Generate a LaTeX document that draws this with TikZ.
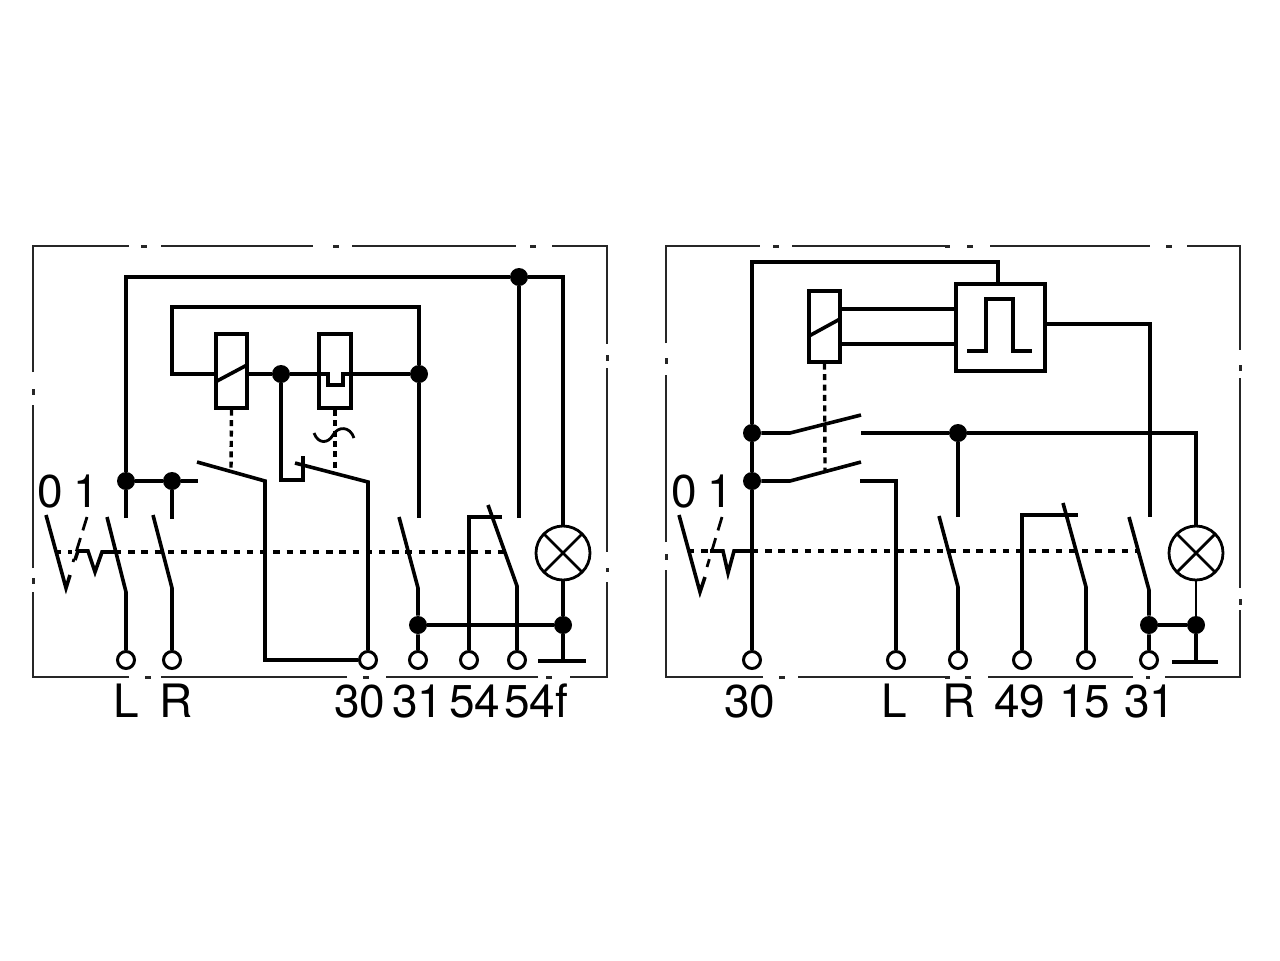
\documentclass[tikz,border=0pt]{standalone}
\usepackage{fontspec}
\setmainfont{TeX Gyre Heros}
\begin{document}
\begin{tikzpicture}[x=0.5pt,y=-0.5pt,
  wire/.style={line width=1.8pt,black,line join=miter},
  thinwire/.style={line width=1.4pt,black},
  frameline/.style={line width=1.2pt,black!85},
  framedot/.style={line width=1.5pt,black!85},
  linkdash/.style={line width=1.9pt,black,dash pattern=on 3.2pt off 3.4pt},
  relaydash/.style={line width=1.7pt,black,dash pattern=on 3pt off 2.2pt},
  junction/.style={circle,fill=black,draw=none,minimum size=9pt,inner sep=0pt},
  terminal/.style={circle,draw=black,line width=1.5pt,fill=white,minimum size=8.5pt,inner sep=0pt},
  lamp/.style={circle,draw=black,line width=1.4pt,minimum size=27pt,inner sep=0pt,
    path picture={\draw[line width=1.4pt]
      (path picture bounding box.south west)--(path picture bounding box.north east)
      (path picture bounding box.north west)--(path picture bounding box.south east);}},
  coilbox/.style={draw=black,line width=1.7pt,fill=none,inner sep=0pt},
  lbl/.style={inner sep=0pt,anchor=base west,font=\fontsize{23}{23}\selectfont}]
\useasboundingbox (0,0) rectangle (1280,960);
\fill[white] (0,0) rectangle (1280,960);

%% frames
\draw[frameline] (33,372)--(33,246)--(129,246) (161,246)--(313,246) (352,246)--(516,246) (552,246)--(607,246)--(607,344)
  (607,368)--(607,552) (607,582)--(607,677)--(570,677) (538,677)--(386,677) (347,677)--(161,677) (129,677)--(33,677)--(33,592)
  (33,568)--(33,405);
\draw[framedot] (33,389)--(33,395) (141,246)--(147,246) (333,246)--(339,246) (530,246)--(536,246) (607,355)--(607,361)
  (607,568)--(607,572) (33,578)--(33,584) (145,677)--(151,677) (363,677)--(369,677) (546,677)--(552,677);
\draw[frameline] (666,343)--(666,246)--(760,246) (792,246)--(950,246) (990,246)--(1150,246) (1187,246)--(1240,246)--(1240,350)
  (1240,378)--(1240,588) (1240,610)--(1240,677)--(1165,677) (1133,677)--(988,677) (950,677)--(798,677) (763,677)--(666,677)--(666,570)
  (666,542)--(666,375);
\draw[framedot] (666,358)--(666,364) (773,246)--(779,246) (945,246)--(950,246) (967,246)--(973,246) (1166,246)--(1172,246)
  (1240,365)--(1240,371) (1240,599)--(1240,605) (666,554)--(666,560) (779,677)--(785,677) (945,677)--(950,677) (965,677)--(971,677) (1146,677)--(1150,677);

%% LEFT DIAGRAM
\node[terminal] (tL) at (126,660) {};
\node[terminal] (tR) at (172,660) {};
\node[terminal] (t30) at (368,660) {};
\node[terminal] (t31) at (418,660) {};
\node[terminal] (t54) at (469,660) {};
\node[terminal] (t54f) at (517,660) {};
\node[junction] (jA) at (126,481) {};
\node[junction] (jB) at (172,481) {};
\node[junction] (jTop) at (519,277) {};
\node[junction] (jMid) at (281,374) {};
\node[junction] (jRight) at (419,374) {};
\node[junction] (jG1) at (418,625) {};
\node[junction] (jG2) at (563,625) {};
\node[lamp] (lampL) at (563,553) {};
\node[coilbox,minimum width=15.5pt,minimum height=37pt] (coilA) at (231.5,371) {};
\node[coilbox,minimum width=16pt,minimum height=37pt] (coilB) at (335,371) {};

\coordinate (a1) at (126,518); \coordinate (a2) at (126,277); \coordinate (a3) at (563,277);
\draw[wire] (a1)--(jA)--(a2)--(jTop)--(a3)--(lampL.north);
\coordinate (b1) at (519,518); \draw[wire] (jTop)--(b1);
\coordinate (c1) at (172,374); \coordinate (c2) at (172,307); \coordinate (c3) at (419,307);
\draw[wire] (coilA.west |- c1)--(c1)--(c2)--(c3)--(jRight);
\coordinate (c4) at (419,518); \draw[wire] (jRight)--(c4);
\coordinate (n1) at (328,374); \coordinate (n2) at (328,385); \coordinate (n3) at (343,385); \coordinate (n4) at (343,374);
\draw[wire] (coilA.east |- jMid)--(jMid)--(coilB.west |- jMid);
\draw[wire] (coilB.west |- jMid)--(n1)--(n2)--(n3)--(n4)--(coilB.east |- jMid)--(jRight);
\coordinate (s1) at (217,381); \coordinate (s2) at (247,365);
\draw[wire] (s1)--(s2);
\coordinate (d1) at (281,480); \coordinate (d2) at (303,480); \coordinate (d3) at (303,456);
\draw[wire] (jMid)--(d1)--(d2)--(d3);
\coordinate (e1) at (295,463); \coordinate (e2) at (368,482); \draw[wire] (e1)--(e2)--(t30);
\coordinate (f1) at (197,462); \coordinate (f2) at (265,481); \coordinate (f3) at (265,660);
\draw[wire] (f1)--(f2)--(f3)--(t30);
\coordinate (g1) at (198,481); \draw[wire] (jA)--(jB)--(g1);
\coordinate (g2) at (172,519); \draw[wire] (jB)--(g2);
\coordinate (hA) at (231,470); \coordinate (hB) at (335,471);
\draw[relaydash] (coilA.south)--(hA);
\draw[relaydash] (coilB.south)--(hB);
\draw[thinwire] (314,433) .. controls (318,444) and (328,444) .. (333,435) .. controls (338,426) and (350,426) .. (354,438);
\coordinate (L1) at (107,517); \coordinate (L2) at (126,592); \draw[wire] (L1)--(L2)--(tL);
\coordinate (R1) at (153,515); \coordinate (R2) at (172,588); \draw[wire] (R1)--(R2)--(tR);
\coordinate (k1) at (399,517); \coordinate (k2) at (418,588); \draw[wire] (k1)--(k2)--(jG1)--(t31);
\coordinate (m1) at (502,517); \coordinate (m2) at (469,517); \draw[wire] (m1)--(m2)--(t54);
\coordinate (o1) at (488,505); \coordinate (o2) at (517,586); \draw[wire] (o1)--(o2)--(t54f);
\draw[wire] (jG1)--(jG2);
\coordinate (q1) at (563,661); \draw[wire] (lampL.south)--(jG2)--(q1);
\coordinate (q2) at (538,661); \coordinate (q3) at (586,661); \draw[wire] (q2)--(q3);
%% detent
\coordinate (u1) at (46,515); \coordinate (u2) at (66,588); \coordinate (u3) at (70,575);
\draw[wire] (u1)--(u2)--(u3);
\coordinate (v1) at (87,517); \coordinate (v2) at (73,562);
\draw[line width=1.4pt,dash pattern=on 7pt off 4pt] (v1)--(v2);
\coordinate (w1) at (78,551); \coordinate (w2) at (88,551); \coordinate (w3) at (95,572); \coordinate (w4) at (102,552); \coordinate (w5) at (115,552);
\draw[wire] (75,560)--(w1)--(w2)--(w3)--(w4)--(w5);
\coordinate (x1) at (55,552); \coordinate (x2) at (72,552); \coordinate (x3) at (505,552);
\draw[linkdash] (x1)--(x2) (w5)--(x3);
\node[lbl] at (37,507) {0};
\node[lbl] at (73,507) {1};
\node[lbl] at (113,717) {L};
\node[lbl] at (159,717) {R};
\node[lbl] at (334,717) {30};
\node[lbl] at (392,717) {31};
\node[lbl] at (449,717) {54};
\node[lbl] at (504,717) {54f};

%% RIGHT DIAGRAM
\node[terminal] (T30) at (752,660) {};
\node[terminal] (TL) at (896,660) {};
\node[terminal] (TR) at (958,660) {};
\node[terminal] (T49) at (1022,660) {};
\node[terminal] (T15) at (1086,660) {};
\node[terminal] (T31) at (1149,660) {};
\node[junction] (J1) at (752,433) {};
\node[junction] (J2) at (752,481) {};
\node[junction] (J3) at (958,433) {};
\node[junction] (J4) at (1149,625) {};
\node[junction] (J5) at (1196,625) {};
\node[lamp] (lampR) at (1196,553) {};
\node[coilbox,minimum width=15.5pt,minimum height=35.5pt] (coilC) at (824.5,326.5) {};
\node[coilbox,minimum width=44.5pt,minimum height=43.5pt] (pulse) at (1000.5,327.5) {};

\coordinate (A1) at (752,262); \coordinate (A2) at (998,262);
\draw[wire] (T30)--(J2)--(J1)--(A1)--(A2)--(A2 |- pulse.north);
\coordinate (B1) at (1150,324); \coordinate (B2) at (1150,517);
\draw[wire] (pulse.east |- B1)--(B1)--(B2);
\draw[wire] (coilC.east |- 0,309)--(pulse.west |- 0,309);
\draw[wire] (coilC.east |- 0,344)--(pulse.west |- 0,344);
\coordinate (C1) at (809,336); \coordinate (C2) at (840,319); \draw[wire] (C1)--(C2);
\coordinate (P1) at (967,351); \coordinate (P2) at (986,351); \coordinate (P3) at (986,299); \coordinate (P4) at (1013,299); \coordinate (P5) at (1013,351); \coordinate (P6) at (1032,351);
\draw[wire] (P1)--(P2)--(P3)--(P4)--(P5)--(P6);
\coordinate (D1) at (790,433); \coordinate (D2) at (861,415); \draw[wire] (J1)--(D1)--(D2);
\coordinate (E1) at (790,481); \coordinate (E2) at (861,462); \draw[wire] (J2)--(E1)--(E2);
\coordinate (F1) at (825,470); \draw[relaydash] (coilC.south)--(F1);
\coordinate (G1) at (861,433); \coordinate (G2) at (1196,433);
\draw[wire] (G1)--(J3)--(G2)--(lampR.north);
\coordinate (G3) at (958,517); \draw[wire] (J3)--(G3);
\coordinate (H1) at (860,481); \coordinate (H2) at (896,481); \draw[wire] (H1)--(H2)--(TL);
\coordinate (I1) at (939,516); \coordinate (I2) at (958,587); \draw[wire] (I1)--(I2)--(TR);
\coordinate (K1) at (1022,515); \coordinate (K2) at (1078,515); \draw[wire] (T49)--(K1)--(K2);
\coordinate (M1) at (1063,503); \coordinate (M2) at (1086,587); \draw[wire] (M1)--(M2)--(T15);
\coordinate (O1) at (1129,517); \coordinate (O2) at (1149,590); \draw[wire] (O1)--(O2)--(J4)--(T31);
\draw[wire] (J4)--(J5);
\coordinate (Q1) at (1196,662); \draw[thinwire] (lampR.south)--(J5); \draw[wire] (J5)--(Q1);
\coordinate (Q2) at (1172,662); \coordinate (Q3) at (1218,662); \draw[wire] (Q2)--(Q3);
%% detent
\coordinate (U1) at (679,515); \coordinate (U2) at (700,592); \coordinate (U3) at (705,577);
\draw[wire] (U1)--(U2)--(U3);
\coordinate (V1) at (722,517); \coordinate (V2) at (707,567);
\draw[line width=1.4pt,dash pattern=on 7pt off 4pt] (V1)--(V2);
\coordinate (W1) at (710,551); \coordinate (W2) at (723,551); \coordinate (W3) at (728,573); \coordinate (W4) at (734,551); \coordinate (W5) at (752,551);
\draw[wire] (W1)--(W2)--(W3)--(W4)--(W5);
\coordinate (X1) at (688,551); \coordinate (X3) at (1138,551);
\draw[linkdash] (X1)--(W1) (W5)--(X3);
\node[lbl] at (671,507) {0};
\node[lbl] at (707,507) {1};
\node[lbl] at (724,717) {30};
\node[lbl] at (881,717) {L};
\node[lbl] at (942,717) {R};
\node[lbl] at (994,717) {49};
\node[lbl] at (1059,717) {15};
\node[lbl] at (1124,717) {31};
\end{tikzpicture}
\end{document}
